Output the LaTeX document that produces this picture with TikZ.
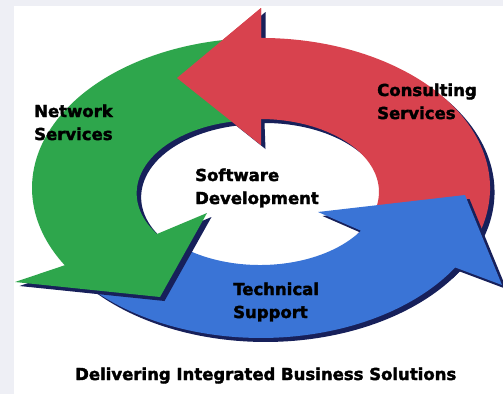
\documentclass[tikz,border=0pt]{standalone}
\usepackage{fontspec}
\setmainfont{DejaVu Sans}[BoldFeatures={FakeBold=2.1}]
\definecolor{bgc}{HTML}{EEEFF5}
\definecolor{grc}{HTML}{2EA64C}
\definecolor{rdc}{HTML}{D8424E}
\definecolor{blc}{HTML}{3A74D6}
\definecolor{nvc}{HTML}{17205A}
\newcommand\myredshape{(261,-8) -- (177,-78) -- (261,-145) -- (260,-119)
  arc[start angle=90, end angle=-35, x radius=119pt, y radius=73pt]
  -- (448.6,-274.0)
  arc[start angle=-35, end angle=90, x radius=229pt, y radius=150pt] -- cycle}
\newcommand\myredhead{(261,-8) -- (177,-78) -- (261,-145) -- cycle}
\newcommand\myblueshape{(73.4,-274.0)
  arc[start angle=215, end angle=328, x radius=229pt, y radius=150pt]
  -- (502,-285) -- (465,-195) -- (318,-212) -- (360.9,-230.7)
  arc[start angle=328, end angle=215, x radius=119pt, y radius=73pt] -- cycle}
\newcommand\mygreenshape{(233.1,-39.1)
  arc[start angle=97, end angle=211, x radius=229pt, y radius=150pt]
  -- (15,-282) -- (160,-297) -- (207,-213) -- (157,-234)
  arc[start angle=214, end angle=97, x radius=119pt, y radius=73pt] -- cycle}
\tikzset{
  shadowfill/.style={fill=nvc, xshift=4.5pt, yshift=-4pt},
  lbl/.style={anchor=base west, align=left, inner sep=0pt, text=black,
    font=\fontsize{16.5}{23}\selectfont\bfseries}
}
\begin{document}
\begin{tikzpicture}[x=1pt,y=1pt]
\useasboundingbox (0,0) rectangle (503,-394);
\fill[bgc] (0,0) rectangle (503,-394);
\fill[white] (14,-6) rectangle (503,-394);
% red
\path[shadowfill] \myredshape;
\fill[rdc] \myredshape;
% blue
\path[shadowfill] \myblueshape;
\fill[blc] \myblueshape;
% green
\path[shadowfill] \mygreenshape;
\fill[grc] \mygreenshape;
% red head on top
\fill[rdc] \myredhead;
% labels (anchor is the baseline of the last line)
\node[lbl] (net) at (34,-140) {Network\\Services};
\node[lbl] (con) at (377,-119) {Consulting\\Services};
\node[lbl] (soft) at (195,-204) {Software\\Development};
\node[lbl] (tech) at (233,-318) {Technical\\Support};
\node[lbl] (title) at (75,-380) {Delivering Integrated Business Solutions};
\end{tikzpicture}
\end{document}
